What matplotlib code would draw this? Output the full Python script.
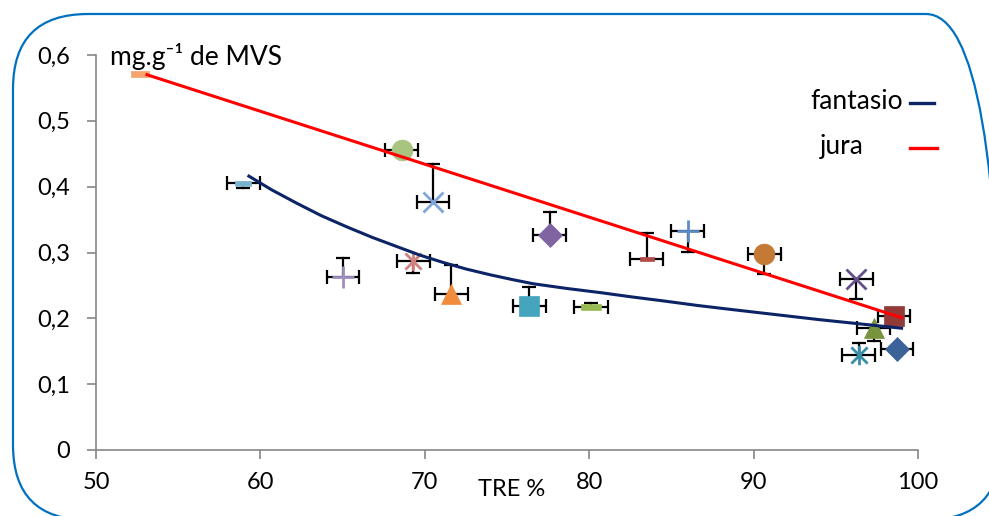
import numpy as np
import matplotlib
matplotlib.use("Agg")
import matplotlib.pyplot as plt
from matplotlib.path import Path
from matplotlib.patches import FancyBboxPatch
from matplotlib.transforms import IdentityTransform

plt.rcParams['font.family'] = ['Lato', 'DejaVu Sans']

# Points (TRE %, mg.g-1 de MVS) with their error bars
tre = [52.7, 68.6, 58.95, 70.5, 77.6, 65.0, 69.3, 71.6, 76.35, 80.1,
       83.5, 86.0, 90.65, 96.25, 98.55, 97.3, 96.4, 98.7]
mg = [0.571, 0.456, 0.406, 0.377, 0.326, 0.263, 0.287, 0.237, 0.219, 0.217,
      0.290, 0.333, 0.297, 0.260, 0.204, 0.185, 0.144, 0.153]
xerr = [0, 1.0, 1.0, 0.95, 1.0, 0.97, 1.0, 1.0, 1.0, 1.05,
        1.0, 1.0, 1.0, 1.0, 0.97, 1.0, 1.0, 0.98]
yerr_lo = [0, 0, 0.008, 0, 0, 0, 0.018, 0, 0, 0,
           0, 0.033, 0.030, 0.030, 0, 0.019, 0, 0]
yerr_hi = [0, 0, 0, 0.058, 0.035, 0.028, 0, 0.044, 0.029, 0.007,
           0.039, 0, 0, 0, 0, 0, 0.019, 0]

# Trend lines
fantasio_x = [59.3, 60.7, 62.2, 63.7, 65.25, 66.8, 68.3, 69.7, 71.1, 72.5, 74.0,
              75.3, 76.6, 78.6, 80.7, 82.6, 84.5, 86.6, 88.8, 91.4, 94.0, 96.5, 99.0]
fantasio_y = [0.416, 0.395, 0.375, 0.356, 0.339, 0.323, 0.309, 0.296, 0.285, 0.275, 0.266,
              0.259, 0.2525, 0.2455, 0.239, 0.2325, 0.2265, 0.2195, 0.2130, 0.2055, 0.198,
              0.1915, 0.185]
jura_x = [53.1, 99.0]
jura_y = [0.570, 0.201]

# marker shapes
dash = Path([(-1, -0.3), (1, -0.3), (1, 0.3), (-1, 0.3), (-1, -0.3)], closed=True)
star = Path([(-1, -1), (1, 1), (-1, 1), (1, -1), (0, -1.2), (0, 1.2)],
            [Path.MOVETO, Path.LINETO, Path.MOVETO, Path.LINETO, Path.MOVETO, Path.LINETO])

# (marker, size, colour, filled)
styles = [
    (dash, 13, '#F5A46E', True),
    ('o', 15, '#A9C47F', True),
    (dash, 12, '#79B4CE', True),
    ('x', 15, '#7FA5DA', False),
    ('D', 12, '#8064A2', True),
    ('+', 16, '#9F8FC0', False),
    (star, 14, '#D08280', False),
    ('^', 15, '#F08C3C', True),
    ('s', 14, '#45A5BE', True),
    (dash, 14, '#98B954', True),
    (dash, 10, '#B34A48', True),
    ('+', 16, '#5B8CC8', False),
    ('o', 15, '#C47A34', True),
    ('x', 15, '#65508A', False),
    ('s', 15, '#923A38', True),
    ('^', 14, '#77933C', True),
    (star, 14, '#3A8FA8', False),
    ('D', 12, '#3C6399', True),
]

fig = plt.figure(figsize=(9.89, 5.16), dpi=100)
ax = fig.add_axes([96/989, 66/516, 822/989, 395/516])

# error bars
for i in range(len(tre)):
    if xerr[i] > 0:
        ax.errorbar(tre[i], mg[i], xerr=xerr[i], fmt='none', ecolor='black',
                    elinewidth=1.6, capsize=5, capthick=1.6, zorder=2)
    for d in (-yerr_lo[i], yerr_hi[i]):
        if d != 0:
            ax.plot([tre[i], tre[i]], [mg[i], mg[i] + d], color='black', lw=1.6, zorder=2)
            ax.plot(tre[i], mg[i] + d, marker='_', ms=10, mew=1.6, color='black', zorder=2)

# markers
for i, (m, s, c, filled) in enumerate(styles):
    if filled:
        ax.plot(tre[i], mg[i], marker=m, ms=s, color=c, mec=c, mew=0.5, zorder=3)
    else:
        ax.plot(tre[i], mg[i], marker=m, ms=s, color=c, mew=2, zorder=3)

# trend lines
ax.plot(fantasio_x, fantasio_y, color='#0C2466', lw=2.2, zorder=4)
ax.plot(jura_x, jura_y, color='#FF0000', lw=2.2, zorder=4)

ax.set_xlim(50, 100)
ax.set_ylim(0, 0.6)
ax.set_xticks([50, 60, 70, 80, 90, 100])
ax.set_yticks([0, 0.1, 0.2, 0.3, 0.4, 0.5, 0.6])
ax.set_yticklabels(['0', '0,1', '0,2', '0,3', '0,4', '0,5', '0,6'])
for sp in ['top', 'right']:
    ax.spines[sp].set_visible(False)
for sp in ['left', 'bottom']:
    ax.spines[sp].set_color('#868686')
    ax.spines[sp].set_linewidth(1.2)
ax.tick_params(axis='both', direction='out', length=6.5, width=1.2, color='#868686',
               labelsize=17)
ax.tick_params(axis='y', pad=12)
ax.tick_params(axis='x', pad=9)

# legend drawn by hand like the original
ax.text(0.982, 0.882, 'fantasio', transform=ax.transAxes, fontsize=19,
        ha='right', va='center')
ax.plot([0.99, 1.02], [0.878, 0.878], transform=ax.transAxes, color='#0C2466',
        lw=2.4, clip_on=False)
ax.text(0.907, 0.768, 'jura', transform=ax.transAxes, fontsize=19,
        ha='center', va='center')
ax.plot([0.99, 1.023], [0.765, 0.765], transform=ax.transAxes, color='#FF0000',
        lw=2.4, clip_on=False)

fig.text(110/989, 1 - 57/516, 'mg.g⁻¹ de MVS', fontsize=19,
         ha='left', va='center')
fig.text(512/989, 1 - 490/516, 'TRE %', fontsize=17, ha='center', va='center')

# rounded frame around the chart
frame = FancyBboxPatch((13, -4), 988, 506, boxstyle='round,pad=0,rounding_size=75',
                       transform=IdentityTransform(), fill=False,
                       edgecolor='#0070C0', lw=1.6, clip_on=False)
fig.patches.append(frame)

fig.savefig('out.png', dpi=100)
